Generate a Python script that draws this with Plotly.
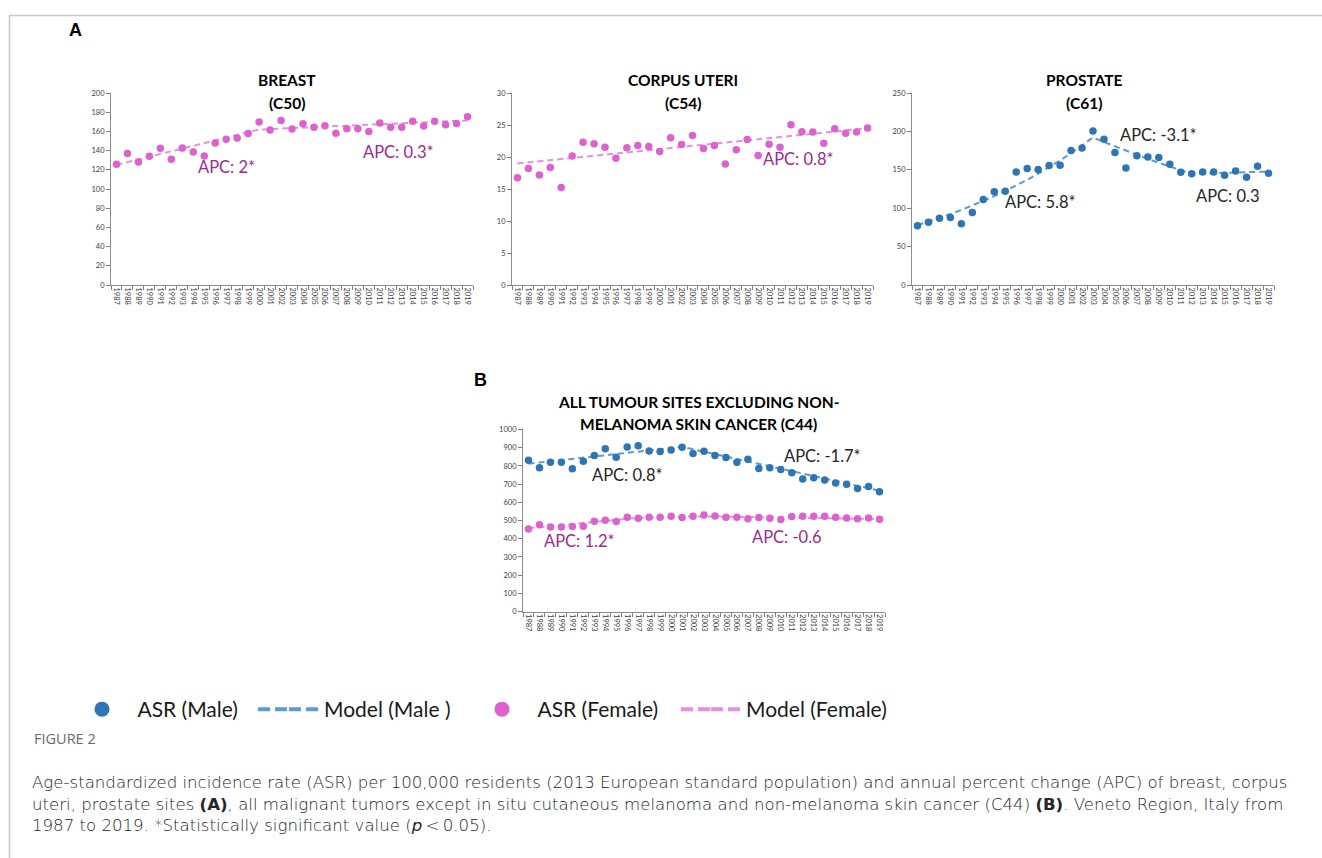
import plotly.graph_objects as go

years = [str(y) for y in range(1987, 2020)]

breast_asr = [125.9, 136.9, 128.3, 134.1, 142.4, 131.0, 142.7, 138.6, 134.5, 147.9, 152.0, 153.3, 157.8,
              169.8, 161.6, 171.5, 162.6, 168.1, 164.3, 166.0, 158.1, 162.9, 162.9, 159.9, 168.8, 164.3,
              164.3, 170.5, 165.7, 170.5, 167.1, 168.4, 175.3]
breast_model_years = ["1987", "2000", "2019"]
breast_model = [125.2, 162.0, 171.5]

uteri_asr = [16.75, 18.2, 17.2, 18.35, 15.26, 20.15, 22.3, 22.06, 21.55, 19.8, 21.44, 21.8, 21.65,
             20.88, 23.0, 21.96, 23.35, 21.34, 21.8, 18.92, 21.13, 22.73, 20.26, 22.0, 21.55, 25.05,
             23.97, 23.92, 22.16, 24.43, 23.71, 23.92, 24.54]
uteri_model_years = ["1987", "2019"]
uteri_model = [19.0, 24.5]

prostate_asr = [77.3, 81.6, 86.8, 88.1, 79.9, 94.5, 111.3, 121.6, 122.0, 147.3, 151.6, 150.3, 155.5,
                155.9, 175.3, 178.3, 200.6, 189.9, 172.7, 152.5, 168.4, 166.7, 166.2, 157.2, 146.9,
                144.8, 147.3, 147.3, 143.0, 148.6, 140.5, 154.6, 145.6]
prostate_model = [78.0, 82.5, 87.3, 92.4, 97.7, 103.4, 109.4, 115.7, 122.4, 129.5, 137.0, 145.0, 153.4,
                  162.3, 171.7, 181.6, 192.2, 186.2, 180.5, 174.9, 169.5, 164.2, 159.1, 154.2, 149.4,
                  144.8, 145.2, 145.7, 146.1, 146.5, 147.0, 147.4, 147.8]

all_male_asr = [831.5, 789.9, 820.7, 820.7, 784.4, 826.1, 856.9, 894.9, 847.8, 904.0, 911.2, 882.2,
                878.6, 887.7, 902.2, 867.8, 880.4, 856.9, 846.0, 820.7, 837.0, 786.2, 789.9, 780.8,
                762.7, 728.3, 735.5, 722.8, 706.5, 699.3, 675.7, 686.6, 657.6]
all_male_model_years = ["1987", "2001", "2019"]
all_male_model = [812.0, 905.0, 664.0]

all_female_asr = [452.9, 476.4, 463.8, 463.8, 467.4, 469.2, 496.4, 501.8, 494.6, 518.1, 512.7, 518.1,
                  518.1, 523.6, 516.3, 523.6, 530.8, 525.4, 518.1, 518.1, 509.1, 516.3, 512.7, 505.4,
                  521.7, 523.6, 523.6, 523.6, 518.1, 514.5, 509.1, 514.5, 507.2]
all_female_model_years = ["1987", "1997", "2003", "2019"]
all_female_model = [458.0, 515.0, 523.0, 508.0]

legend_labels = ["ASR (Male)", "Model (Male )", "ASR (Female)", "Model (Female)"]

BLUE = "#2e75b6"
BLUE_LINE = "#5b9bd5"
PINK = "#dd62cf"
PINK_LINE = "#e88fdc"
PURPLE = "#9a2a8c"
W, H = 1322, 858
FONT = "Lato"
NB = "\u00a0"


def px_x(v):
    return v / W


def px_y(v):
    return 1 - v / H


fig = go.Figure()

panels = [
    ("x", "y", (111, 473), (90, 284), (0, 200), 20),
    ("x2", "y2", (512, 873), (90, 284), (0, 30), 5),
    ("x3", "y3", (912, 1274), (90, 284), (0, 250), 50),
    ("x4", "y4", (523, 885), (430, 614), (0, 1000), 100),
]

for i, (xa, ya, (x0, x1), (yt, yb), rng, dt) in enumerate(panels):
    suffix = "" if i == 0 else str(i + 1)
    fig.update_layout(**{
        "xaxis" + suffix: dict(
            domain=[px_x(x0), px_x(x1)], anchor=ya, type="category",
            categoryorder="array", categoryarray=years,
            range=[-0.5, len(years) - 0.5], tickson="boundaries",
            ticks="outside", ticklen=4, tickcolor="#7f7f7f", tickwidth=1,
            showline=True, linecolor="#8c8c8c", linewidth=1,
            showgrid=False, zeroline=False, tickangle=90,
            tickfont=dict(family=FONT, size=7.5, color="#404040"),
            fixedrange=True,
        ),
        "yaxis" + suffix: dict(
            domain=[px_y(yb), px_y(yt)], anchor=xa,
            range=list(rng), dtick=dt, tick0=0,
            ticks="outside", ticklen=4, tickcolor="#7f7f7f", tickwidth=1,
            showline=True, linecolor="#8c8c8c", linewidth=1,
            showgrid=False, zeroline=False,
            tickfont=dict(family=FONT, size=7.5, color="#404040"),
            fixedrange=True,
        ),
    })

DASH = "6px,4px"


def model(xv, yv, color, xa, ya):
    fig.add_trace(go.Scatter(x=xv, y=yv, mode="lines", xaxis=xa, yaxis=ya, showlegend=False,
                             line=dict(color=color, width=2, dash=DASH), hoverinfo="skip"))


def asr(yv, color, xa, ya):
    fig.add_trace(go.Scatter(x=years, y=yv, mode="markers", xaxis=xa, yaxis=ya, showlegend=False,
                             marker=dict(color=color, size=7.5)))


model(breast_model_years, breast_model, PINK_LINE, "x", "y")
asr(breast_asr, PINK, "x", "y")
model(uteri_model_years, uteri_model, PINK_LINE, "x2", "y2")
asr(uteri_asr, PINK, "x2", "y2")
model(years, prostate_model, BLUE_LINE, "x3", "y3")
asr(prostate_asr, BLUE, "x3", "y3")
model(all_male_model_years, all_male_model, BLUE_LINE, "x4", "y4")
asr(all_male_asr, BLUE, "x4", "y4")
model(all_female_model_years, all_female_model, PINK_LINE, "x4", "y4")
asr(all_female_asr, PINK, "x4", "y4")

# legend entries, each in its own legend so it can be placed like the reference
LEG_DASH = "12px,5px"
legend_specs = [
    ("legend", NB * 3 + legend_labels[0], "marker", BLUE, 82),
    ("legend2", "", "line", BLUE_LINE, 253),
    ("legend3", legend_labels[1], "line", BLUE_LINE, 284),
    ("legend4", NB * 3 + legend_labels[2], "marker", PINK, 482),
    ("legend5", "", "line", PINK_LINE, 676),
    ("legend6", legend_labels[3], "line", PINK_LINE, 706),
]
legend_layout = {}
for lid, name, kind, color, lx in legend_specs:
    if kind == "marker":
        tr = go.Scatter(x=[None], y=[None], mode="markers", name=name, legend=lid,
                        marker=dict(color=color, size=15), showlegend=True)
    else:
        tr = go.Scatter(x=[None], y=[None], mode="lines", name=name, legend=lid,
                        line=dict(color=color, width=4, dash=LEG_DASH), showlegend=True)
    fig.add_trace(tr)
    legend_layout[lid] = dict(x=px_x(lx), y=px_y(713), xanchor="left", yanchor="middle",
                              font=dict(family=FONT, size=21, color="#1a1a1a"),
                              bgcolor="rgba(0,0,0,0)", borderwidth=0, itemsizing="trace")

annotations = []


def text(x, y, s, size, color="#000000", bold=False, anchor="center", family=FONT):
    annotations.append(dict(
        x=px_x(x), y=px_y(y), xref="paper", yref="paper", text=("<b>%s</b>" % s) if bold else s,
        showarrow=False, xanchor=anchor, yanchor="middle",
        font=dict(family=family, size=size, color=color)))


# panel letters
text(75, 26, "A", 18, bold=True, family="Liberation Sans")
text(480, 380, "B", 18, bold=True, family="Liberation Sans")

# titles
for cx, l1, l2 in [(287, "BREAST", "(C50)"), (683, "CORPUS UTERI", "(C54)"), (1084, "PROSTATE", "(C61)")]:
    text(cx, 77, l1, 15.5, bold=True)
    text(cx, 100, l2, 15.5, bold=True)
text(698, 402, "ALL TUMOUR SITES EXCLUDING NON-", 15.5, bold=True)
text(698, 424, "MELANOMA SKIN CANCER (C44)", 15.5, bold=True)

# APC labels
APC = 16.5
text(226, 165, "APC: 2*", APC, PURPLE)
text(398, 150, "APC: 0.3*", APC, PURPLE)
text(798, 157, "APC: 0.8*", APC, PURPLE)
text(1158, 132, "APC: -3.1*", APC, "#262626")
text(1040, 200, "APC: 5.8*", APC, "#262626")
text(1227, 194, "APC: 0.3", APC, "#262626")
text(627, 476, "APC: 0.8*", APC, "#262626")
text(822, 457, "APC: -1.7*", APC, "#262626")
text(579, 543, "APC: 1.2*", APC, PURPLE)
text(787, 539, "APC: -0.6", APC, PURPLE)

# caption
CAP = "#262626"
annotations.append(dict(x=px_x(32), y=px_y(742), xref="paper", yref="paper", text="FIGURE 2",
                        showarrow=False, xanchor="left", yanchor="middle",
                        font=dict(family="Open Sans", size=14.5, color="#6a6a6a")))
caption_lines = [
    "Age-standardized incidence rate (ASR) per 100,000 residents (2013 European standard population) and annual percent change (APC) of breast, corpus",
    "uteri, prostate sites <b>(A)</b>, all malignant tumors except in situ cutaneous melanoma and non-melanoma skin cancer (C44) <b>(B)</b>. Veneto Region, Italy from",
    "1987 to 2019. *Statistically significant value (<i>p</i>\u2009&lt;\u20090.05).",
]
annotations.append(dict(x=px_x(30), y=px_y(808), xref="paper", yref="paper", text="<br>".join(caption_lines),
                        showarrow=False, xanchor="left", yanchor="middle", align="left",
                        font=dict(family="DejaVu Sans", size=16.6, color=CAP, weight=300)))

fig.update_layout(
    width=W, height=H, margin=dict(l=0, r=0, t=0, b=0),
    paper_bgcolor="white", plot_bgcolor="white",
    annotations=annotations,
    shapes=[dict(type="rect", xref="paper", yref="paper", x0=px_x(9.5), x1=1.05,
                 y0=-0.05, y1=px_y(11.5), line=dict(color="#c8c8c8", width=1.5))],
    showlegend=True,
    **legend_layout,
)

fig.write_html(
    "out.html",
    config={"displayModeBar": False},
    post_script="document.body.style.margin='0';document.body.style.overflow='hidden';"
                "document.documentElement.style.overflow='hidden';",
)
